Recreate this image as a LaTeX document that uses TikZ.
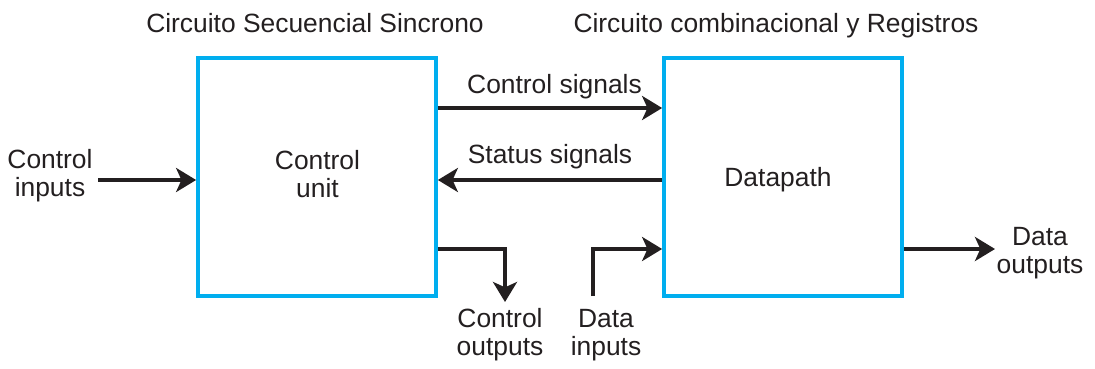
\documentclass[tikz,border=0pt]{standalone}
\usepackage{fontspec}
\setmainfont{Liberation Sans}
\usetikzlibrary{arrows.meta}
\definecolor{boxcyan}{RGB}{0,174,239}
\definecolor{ink}{RGB}{35,31,32}
\begin{document}
\begin{tikzpicture}[x=0.75pt,y=-0.75pt,
  blk/.style={draw=boxcyan,line width=2.8pt,minimum width=178.5pt,minimum height=178.5pt,inner sep=0pt},
  lbl/.style={font=\fontsize{19.8}{20.4}\selectfont,text=ink,inner sep=0pt,anchor=base,align=center},
  arr/.style={draw=ink,line width=3pt,-{Stealth[length=15pt,width=18pt,inset=4pt]}}]
\useasboundingbox (0,0) rectangle (1095,368);
\node[blk] (cu) at (317,177) {};
\node[blk] (dp) at (783,177) {};
\node[lbl] (t1) at (315,32) {Circuito Secuencial Sincrono};
\node[lbl] (t2) at (776,32) {Circuito combinacional y Registros};
\node[lbl] (cut) at (317.5,197) {Control\\unit};
\node[lbl] (dpt) at (778,186) {Datapath};
\node[lbl] (cs) at (554.5,93) {Control signals};
\node[lbl] (ss) at (550,163) {Status signals};
\node[lbl] (ci) at (50,196) {Control\\inputs};
\node[lbl] (do) at (1040,273) {Data\\outputs};
\node[lbl] (co) at (500,355) {Control\\outputs};
\node[lbl] (di) at (606,355) {Data\\inputs};
\coordinate (ciS) at (98,180);
\coordinate (doE) at (995,249);
\coordinate (coE) at (505,302);
\coordinate (diS) at (593,296);
\draw[arr] (cu.east |- 0,108) -- (dp.west |- 0,108);
\draw[arr] (dp.west |- 0,180) -- (cu.east |- 0,180);
\draw[arr] (ciS) -- (cu.west |- ciS);
\draw[arr] (dp.east |- doE) -- (doE);
\draw[arr] (cu.east |- 0,249) -| (coE);
\draw[arr] (diS) |- (dp.west |- 0,249);
\end{tikzpicture}
\end{document}
